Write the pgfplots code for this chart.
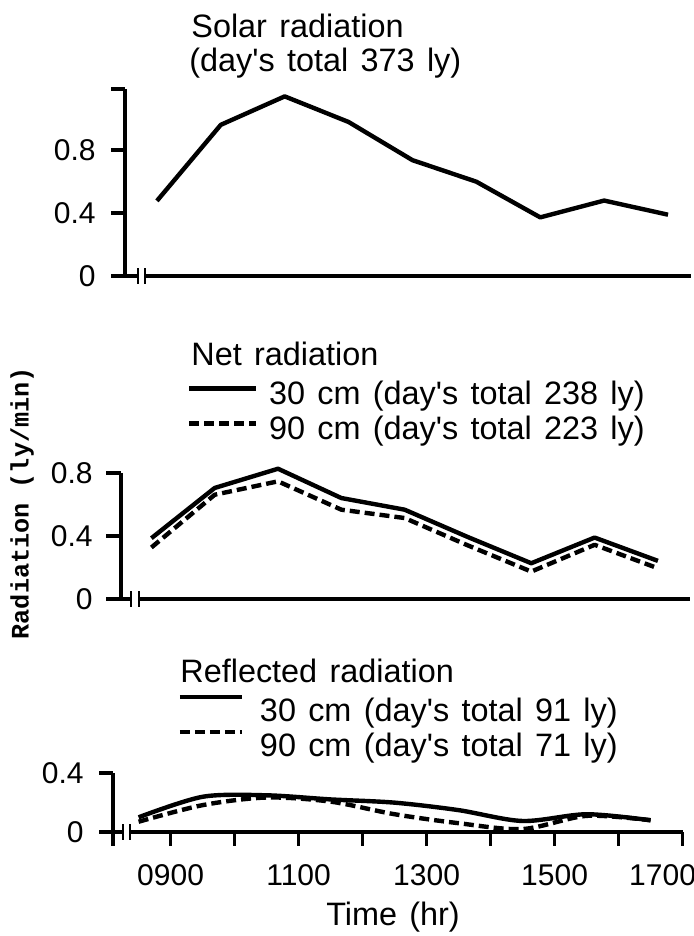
\documentclass[border=0pt]{standalone}
\usepackage{pgfplots}
\pgfplotsset{compat=1.18}
\usepackage{fontspec}
\setmainfont{Liberation Sans}
\newfontfamily\monob{Liberation Mono}
\newcommand\q{\textquotesingle}
\newcommand\bigtxt{\fontsize{16.2}{19}\selectfont\spaceskip=0.38em plus 0.1em minus 0.05em\relax}
\newcommand\ticktxt{\fontsize{15}{18}\selectfont}
\newcommand\legbox[1]{\pgfpathrectangle{\pgfpoint{0pt}{-8.75pt}}{\pgfpoint{#1}{17.5pt}}\pgfusepath{use as bounding box}}
\pgfplotsset{
  panel/.style={
    scale only axis, axis lines=left, axis line style={-, line width=2pt},
    tick style={black, line width=1.8pt}, tick align=outside,
    /pgf/number format/assume math mode=true,
    ticklabel style={font=\ticktxt},
    yticklabel style={anchor=east, inner sep=0pt},
    xticklabel style={anchor=north, inner sep=0pt},
    clip=false,
    legend cell align=left,
    legend style={draw=none, fill=none, inner sep=0pt, outer sep=0pt, font=\bigtxt,
      nodes={inner sep=0pt, text height=12pt, text depth=5.5pt}, row sep=0pt},
  },
  sol/.style={black, line width=2.2pt, line join=round},
  das/.style={black, line width=2.2pt, line join=round, dash pattern=on 5pt off 2.5pt},
}
\begin{document}
\begin{tikzpicture}
\useasboundingbox (0,0) rectangle (347pt,468pt);
% ---------- Solar radiation ----------
\begin{axis}[panel, at={(62.5pt,330pt)}, anchor=south west,
  width=283pt, height=93.5pt,
  xmin=8.0, xmax=16.86, ymin=0, ymax=1.19,
  xtick=\empty, ytick={0,0.4,0.8,1.19}, yticklabels={0,0.4,0.8,},
  major tick length=7pt, yticklabel shift=7.5pt]
\addplot[sol] coordinates {(8.5,0.478) (9.5,0.962) (10.5,1.143) (11.5,0.98) (12.5,0.737) (13.5,0.60) (14.5,0.373) (15.5,0.48) (16.5,0.39)};
\end{axis}
% ---------- Net radiation ----------
\begin{axis}[panel, at={(60.5pt,168.5pt)}, anchor=south west,
  width=284.5pt, height=63pt,
  xmin=8.02, xmax=17.007, ymin=0, ymax=0.8,
  xtick=\empty, ytick={0,0.4,0.8}, yticklabels={0,0.4,0.8},
  major tick length=7.5pt, yticklabel shift=6.5pt,
  ylabel={Radiation (ly/min)},
  ylabel style={at={(axis description cs:-0.174,0.76)}, anchor=center, font=\monob\bfseries\fontsize{12.6}{15}\selectfont},
  legend style={at={(axis description cs:0.1195,1.738)}, anchor=north west, column sep=6.5pt},
  legend image code/.code={\legbox{33.5pt}\draw[#1] (0pt,4.5pt) -- (33.5pt,4.5pt);}]
\addplot[sol] coordinates {(8.5,0.386) (9.5,0.705) (10.5,0.827) (11.5,0.641) (12.5,0.567) (13.5,0.393) (14.5,0.227) (15.5,0.39) (16.5,0.242)};
\addlegendentry{30 cm (day\q s total 238 ly)}
\addplot[das] coordinates {(8.5,0.327) (9.5,0.662) (10.5,0.747) (11.5,0.567) (12.5,0.514) (13.5,0.34) (14.5,0.174) (15.5,0.344) (16.5,0.195)};
\addlegendentry{90 cm (day\q s total 223 ly)}
\end{axis}
% ---------- Reflected radiation ----------
\begin{axis}[panel, at={(56.5pt,52pt)}, anchor=south west,
  width=284.8pt, height=29.35pt,
  xmin=8.1, xmax=17, ymin=0, ymax=0.4,
  xtick={8.1,9,10,11,12,13,14,15,16,17},
  xticklabels={,0900,,1100,,1300,,1500,,{1700\hspace*{20pt}}},
  ytick={0,0.4}, yticklabels={0,0.4},
  major tick length=7pt, yticklabel shift=7.5pt, xticklabel shift=9pt,
  xlabel={Time (hr)},
  xlabel style={at={(axis description cs:0.4916,-1.601)}, anchor=base, font=\bigtxt},
  legend style={at={(axis description cs:0.1176,2.283)}, anchor=north west, column sep=9pt},
  legend image code/.code={\legbox{31pt}\draw[#1] (0pt,9.25pt) -- (31pt,9.25pt);}]
\addplot[sol, smooth] coordinates {(8.5,0.10) (9.5,0.24) (10.5,0.25) (11.5,0.222) (12.5,0.20) (13.5,0.149) (14.5,0.075) (15.5,0.121) (16.5,0.08)};
\addlegendentry{30 cm (day\q s total 91 ly)}
\addplot[das, smooth] coordinates {(8.5,0.07) (9.5,0.183) (10.5,0.235) (11.5,0.207) (12.5,0.121) (13.5,0.06) (14.5,0.02) (15.5,0.11) (16.5,0.08)};
\addlegendentry{90 cm (day\q s total 71 ly)}
\end{axis}
% ---------- titles ----------
\node[anchor=base west, inner sep=0pt, font=\bigtxt] at (95.5pt,449pt) {Solar radiation};
\node[anchor=base west, inner sep=0pt, font=\bigtxt] at (94.5pt,432pt) {(day\q s total 373 ly)};
\node[anchor=base west, inner sep=0pt, font=\bigtxt] at (95.5pt,285pt) {Net radiation};
\node[anchor=base west, inner sep=0pt, font=\bigtxt] at (90pt,126.5pt) {Reflected radiation};
% ---------- axis breaks ----------
\foreach \xa/\xb/\yy in {69/72.5/330, 65.5/69.5/168.5, 61.5/65/52}{
  \fill[white] (\xa pt,\yy pt-1.2pt) rectangle (\xb pt,\yy pt+1.2pt);
  \draw[line width=1.1pt] (\xa pt,\yy pt-4pt) -- (\xa pt,\yy pt+4pt);
  \draw[line width=1.1pt] (\xb pt,\yy pt-4pt) -- (\xb pt,\yy pt+4pt);
}
\end{tikzpicture}
\end{document}
